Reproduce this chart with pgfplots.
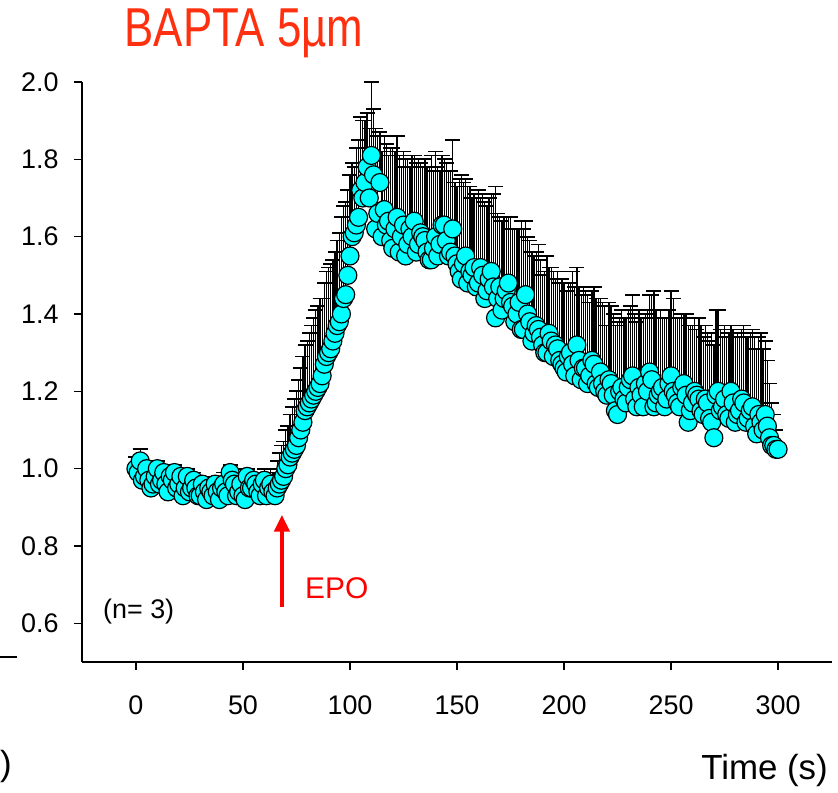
\documentclass[border=0pt]{standalone}
\usepackage{pgfplots}
\pgfplotsset{compat=1.18}
\usepackage{pgfplotstable}
\usetikzlibrary{arrows.meta}
\usepackage{fontspec}
\setmainfont{Liberation Sans}
\newfontfamily\titlefont[FakeStretch=0.8]{Liberation Sans}
\definecolor{cyanf}{RGB}{0,255,255}
\definecolor{titlered}{RGB}{255,48,16}

\pgfplotstableread{
t v e
0 1.00 0.03
1 0.99 0.02
2 1.02 0.03
3 0.97 0.03
4 0.98 0.03
5 1.00 0.02
6 0.97 0.02
7 0.95 0.03
8 0.96 0.03
9 0.98 0.02
10 1.00 0.02
11 0.96 0.03
12 0.97 0.03
13 0.99 0.02
14 0.96 0.02
15 0.94 0.03
16 0.98 0.03
17 0.97 0.02
18 0.99 0.02
19 0.95 0.03
20 0.96 0.03
21 0.98 0.02
22 0.93 0.02
23 0.95 0.03
24 0.98 0.02
25 0.94 0.03
26 0.95 0.03
27 0.97 0.02
28 0.95 0.02
29 0.93 0.03
30 0.93 0.03
31 0.96 0.02
32 0.94 0.02
33 0.92 0.03
34 0.95 0.02
35 0.94 0.03
36 0.93 0.03
37 0.96 0.02
38 0.94 0.02
39 0.92 0.03
40 0.95 0.03
41 0.96 0.03
42 0.94 0.04
43 0.93 0.03
44 0.99 0.02
45 0.97 0.03
46 0.96 0.03
47 0.93 0.02
48 0.94 0.02
49 0.96 0.03
50 0.93 0.03
51 0.92 0.02
52 0.98 0.02
53 0.95 0.03
54 0.95 0.03
55 0.97 0.02
56 0.96 0.02
57 0.94 0.03
58 0.93 0.03
59 0.96 0.03
60 0.97 0.03
61 0.93 0.04
62 0.95 0.04
63 0.96 0.04
64 0.94 0.05
65 0.93 0.06
66 0.95 0.07
67 0.96 0.08
68 0.97 0.09
69 0.98 0.09
70 1.00 0.10
71 1.01 0.10
72 1.03 0.11
73 1.04 0.12
74 1.05 0.13
75 1.06 0.14
76 1.08 0.15
77 1.10 0.16
78 1.12 0.17
79 1.15 0.17
80 1.16 0.17
81 1.17 0.18
82 1.18 0.19
83 1.19 0.20
84 1.20 0.21
85 1.21 0.21
86 1.22 0.22
87 1.24 0.20
88 1.27 0.21
89 1.29 0.22
90 1.30 0.22
91 1.31 0.22
92 1.33 0.21
93 1.35 0.21
94 1.37 0.22
95 1.38 0.23
96 1.40 0.25
97 1.44 0.24
98 1.45 0.24
99 1.50 0.22
100 1.55 0.21
101 1.60 0.19
102 1.61 0.17
103 1.63 0.20
104 1.65 0.20
105 1.72 0.19
106 1.70 0.20
107 1.74 0.16
108 1.78 0.14
109 1.70 0.18
110 1.81 0.19
111 1.76 0.17
112 1.62 0.26
113 1.66 0.20
114 1.74 0.13
115 1.60 0.22
116 1.67 0.19
117 1.63 0.21
118 1.64 0.17
119 1.59 0.24
120 1.57 0.26
121 1.62 0.20
122 1.65 0.21
123 1.56 0.25
124 1.60 0.18
125 1.63 0.19
126 1.55 0.25
127 1.58 0.22
128 1.62 0.16
129 1.60 0.21
130 1.64 0.17
131 1.56 0.23
132 1.58 0.22
133 1.61 0.18
134 1.60 0.18
135 1.59 0.21
136 1.56 0.22
137 1.54 0.24
138 1.54 0.27
139 1.57 0.20
140 1.60 0.22
141 1.55 0.23
142 1.58 0.19
143 1.63 0.18
144 1.63 0.17
145 1.59 0.20
146 1.55 0.22
147 1.56 0.21
148 1.62 0.23
149 1.55 0.19
150 1.53 0.20
151 1.51 0.24
152 1.49 0.27
153 1.53 0.21
154 1.55 0.20
155 1.48 0.25
156 1.51 0.22
157 1.50 0.20
158 1.52 0.19
159 1.47 0.23
160 1.48 0.24
161 1.52 0.18
162 1.50 0.21
163 1.44 0.25
164 1.46 0.22
165 1.49 0.21
166 1.51 0.20
167 1.47 0.24
168 1.39 0.34
169 1.44 0.22
170 1.47 0.18
171 1.41 0.23
172 1.44 0.21
173 1.46 0.19
174 1.48 0.17
175 1.43 0.22
176 1.42 0.20
177 1.38 0.24
178 1.40 0.22
179 1.43 0.19
180 1.36 0.28
181 1.36 0.26
182 1.45 0.19
183 1.40 0.20
184 1.38 0.21
185 1.33 0.23
186 1.35 0.20
187 1.37 0.19
188 1.36 0.22
189 1.34 0.20
190 1.32 0.18
191 1.30 0.21
192 1.30 0.25
193 1.35 0.17
194 1.33 0.19
195 1.29 0.22
196 1.32 0.17
197 1.31 0.20
198 1.28 0.20
199 1.27 0.22
200 1.26 0.22
201 1.25 0.21
202 1.29 0.19
203 1.30 0.18
204 1.27 0.24
205 1.24 0.23
206 1.32 0.20
207 1.28 0.19
208 1.23 0.22
209 1.26 0.21
210 1.26 0.20
211 1.22 0.23
212 1.24 0.19
213 1.28 0.18
214 1.27 0.20
215 1.22 0.22
216 1.21 0.23
217 1.25 0.19
218 1.22 0.21
219 1.20 0.22
220 1.19 0.18
221 1.23 0.20
222 1.22 0.20
223 1.19 0.21
224 1.15 0.22
225 1.14 0.24
226 1.20 0.19
227 1.21 0.20
228 1.18 0.21
229 1.17 0.22
230 1.21 0.20
231 1.23 0.19
232 1.24 0.21
233 1.18 0.22
234 1.16 0.22
235 1.21 0.20
236 1.19 0.20
237 1.16 0.23
238 1.22 0.18
239 1.20 0.21
240 1.25 0.20
241 1.23 0.22
242 1.16 0.30
243 1.17 0.24
244 1.19 0.20
245 1.20 0.21
246 1.21 0.18
247 1.16 0.23
248 1.18 0.21
249 1.22 0.19
250 1.24 0.22
251 1.20 0.24
252 1.19 0.20
253 1.17 0.22
254 1.16 0.23
255 1.21 0.19
256 1.22 0.18
257 1.19 0.21
258 1.12 0.25
259 1.15 0.22
260 1.17 0.20
261 1.20 0.19
262 1.19 0.17
263 1.18 0.21
264 1.15 0.22
265 1.14 0.20
266 1.18 0.19
267 1.17 0.18
268 1.13 0.20
269 1.12 0.23
270 1.08 0.24
271 1.19 0.22
272 1.20 0.21
273 1.15 0.21
274 1.16 0.18
275 1.18 0.19
276 1.14 0.20
277 1.13 0.22
278 1.20 0.17
279 1.17 0.19
280 1.12 0.22
281 1.14 0.21
282 1.15 0.19
283 1.18 0.18
284 1.17 0.20
285 1.12 0.22
286 1.13 0.21
287 1.15 0.20
288 1.16 0.20
289 1.11 0.23
290 1.09 0.22
291 1.14 0.20
292 1.12 0.23
293 1.10 0.21
294 1.14 0.19
295 1.11 0.17
296 1.08 0.14
297 1.06 0.11
298 1.06 0.08
299 1.05 0.05
300 1.05 0.00
}\data

\begin{document}
\begin{tikzpicture}[x=1bp,y=1bp]
\useasboundingbox (0,0) rectangle (838,793);
\begin{axis}[
  at={(82bp,131bp)}, anchor=south west,
  width=750bp, height=580bp, scale only axis,
  xmin=-25.2, xmax=325.2, ymin=0.5, ymax=2.0,
  axis x line*=bottom, axis y line*=left,
  axis line style={line width=1.3bp, -},
  xtick={0,50,100,150,200,250,300},
  ytick={0.6,0.8,1.0,1.2,1.4,1.6,1.8,2.0},
  tick align=outside, major tick length=8bp,
  tick style={line width=1.2bp, black},
  tick label style={font=\fontsize{27}{31}\selectfont},
  xticklabel style={yshift=-22bp},
  yticklabel style={xshift=-12bp},
  /pgf/number format/assume math mode=true,
  yticklabel style={/pgf/number format/.cd, fixed, fixed zerofill, precision=1},
]
\addplot[only marks, mark=*, mark size=9bp,
  mark options={fill=cyanf, draw=black, line width=1.2bp},
  error bars/.cd, y dir=plus, y explicit, error mark=-,
  error bar style={line width=1.3bp, black},
  error mark options={rotate=90, mark size=7.5bp, line width=1.7bp, black}]
  table[x=t, y=v, y error=e] {\data};
\draw[red, line width=4.5bp, -{Triangle[width=15bp,length=17bp]}]
  (axis cs:68.2,0.641) -- (axis cs:68.2,0.881);
\node[anchor=west, text=red, font=\fontsize{30}{34}\selectfont, inner sep=0pt]
  at (axis cs:79,0.69) {EPO};
\node[anchor=west, font=\fontsize{27}{31}\selectfont, inner sep=0pt]
  at (axis cs:-15.4,0.63) {(n= 3)};
\end{axis}
\node[anchor=base, inner sep=0pt, text=titlered, font=\titlefont\fontsize{55}{60}\selectfont]
  at (244,746) {BAPTA 5µm};
\node[anchor=base east, inner sep=0pt, font=\fontsize{35}{38}\selectfont]
  at (828,13) {Time (s)};
\node[anchor=base west, inner sep=0pt, font=\fontsize{35}{38}\selectfont]
  at (0,17) {)};
\draw[line width=1.3bp] (0,136) -- (17,136);
\end{tikzpicture}
\end{document}
